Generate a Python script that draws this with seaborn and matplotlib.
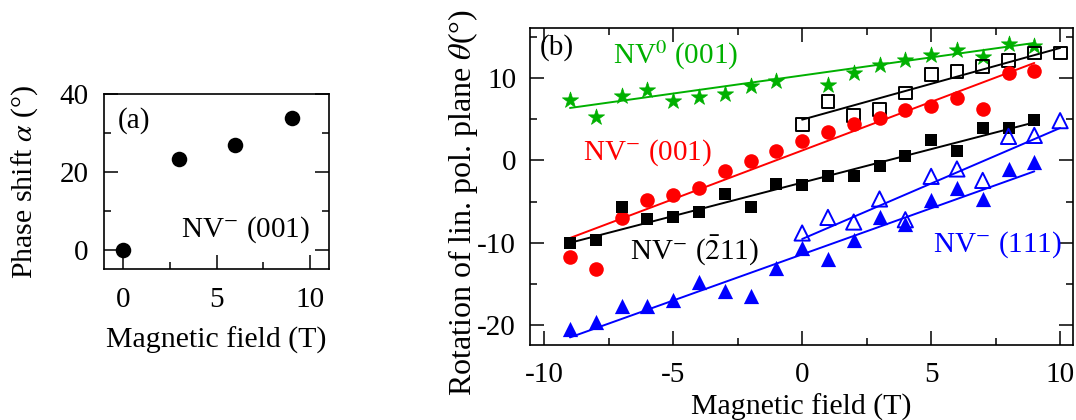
import numpy as np
import pandas as pd
import matplotlib
matplotlib.use("Agg")
import matplotlib.pyplot as plt
import seaborn as sns
from matplotlib.ticker import MultipleLocator

# ---------------- data ----------------
# panel (a)
a_field = [0, 3, 6, 9]
a_phase = [0.0, 23.4, 26.9, 33.9]

# panel (b)
neg_field = [-9, -8, -7, -6, -5, -4, -3, -2, -1, 0, 1, 2, 3, 4, 5, 6, 7, 8, 9]
pos_field = [0, 1, 2, 3, 4, 5, 6, 7, 8, 9, 10]
green_field = [-9, -8, -7, -6, -5, -4, -3, -2, -1, 1, 2, 3, 4, 5, 6, 7, 8, 9]

nv0_001 = [7.37, 5.22, 7.77, 8.50, 7.16, 7.65, 8.09, 8.98, 9.59,
           9.10, 10.61, 11.61, 12.14, 12.74, 13.35, 12.55, 14.13, 13.92]
nvm_001 = [-11.72, -13.14, -6.99, -4.77, -4.16, -3.35, -1.29, -0.12, 1.18, 2.31,
           3.45, 4.45, 5.15, 6.15, 6.64, 7.57, 6.24, 10.61, 10.80]
nvm_211 = [-10.02, -9.62, -5.66, -7.11, -6.87, -6.31, -4.04, -5.66, -2.83, -2.95,
           -1.86, -1.94, -0.64, 0.49, 2.51, 1.09, 3.93, 3.93, 4.94]
nvm_111 = [-20.46, -19.66, -17.72, -17.63, -16.99, -14.81, -15.90, -16.50, -13.06, -10.59,
           -11.97, -9.62, -6.87, -7.68, -4.77, -3.35, -4.68, -1.01, -0.24]
open_sq = [4.33, 7.16, 5.46, 6.15, 8.18, 10.40, 10.80, 11.41, 12.10, 13.03, 13.03]
open_tri = [-8.81, -6.92, -7.48, -4.68, -7.20, -1.94, -1.04, -2.43, 2.91, 3.03, 4.82]

# linear-fit lines: end points
fit_neg_x = [-9, 9]
fit_pos_x = [0, 10]
fit_nv0_001 = [6.36, 14.25]
fit_nvm_001 = [-9.42, 11.82]
fit_nvm_211 = [-10.0, 4.61]
fit_nvm_111 = [-21.48, -1.33]
fit_open_sq = [4.94, 13.64]
fit_open_tri = [-9.54, 3.93]

labels_b = [r"NV$^{0}$ (001)", r"NV$^{-}$ (001)", r"NV$^{-}$ ($\bar{2}$11)", r"NV$^{-}$ (111)"]

# ---------------- style ----------------
sns.set_theme(style="ticks")
plt.rcParams.update({
    "font.family": ["Liberation Serif", "DejaVu Serif"],
    "mathtext.fontset": "stix",
    "axes.unicode_minus": False,
    "font.size": 20,
    "axes.linewidth": 1.2,
    "axes.edgecolor": "#000000",
    "xtick.direction": "in",
    "ytick.direction": "in",
    "xtick.major.size": 10,
    "ytick.major.size": 10,
    "xtick.minor.size": 5,
    "ytick.minor.size": 5,
    "xtick.major.width": 1.1,
    "ytick.major.width": 1.1,
    "xtick.minor.width": 1.1,
    "ytick.minor.width": 1.1,
    "xtick.labelsize": 21,
    "ytick.labelsize": 21,
    "axes.labelsize": 21.5,
    "xtick.color": "#000000",
    "ytick.color": "#000000",
    "axes.labelcolor": "#000000",
    "text.color": "#000000",
})

GREEN = "#00b000"
RED = "#ff0000"
BLUE = "#0000ff"
BLACK = "#000000"

fig = plt.figure(figsize=(10.76, 4.20), dpi=100)
axa = fig.add_axes([104 / 1076, 1 - 269 / 420, 225 / 1076, 175 / 420])
axb = fig.add_axes([530 / 1076, 1 - 345 / 420, 543 / 1076, 317.3 / 420])

# ---------------- panel (a) ----------------
sns.scatterplot(x=a_field, y=a_phase, ax=axa, color=BLACK, s=125, marker="o",
                edgecolor=BLACK, linewidth=0, zorder=3)
axa.set_xlim(-1, 11)
axa.set_ylim(-5, 40)
axa.xaxis.set_major_locator(MultipleLocator(5))
axa.xaxis.set_minor_locator(MultipleLocator(2.5))
axa.yaxis.set_major_locator(MultipleLocator(20))
axa.yaxis.set_minor_locator(MultipleLocator(10))
axa.tick_params(which="both", right=True, top=False)
axa.tick_params(axis="x", which="major", pad=13)
axa.tick_params(axis="y", which="major", pad=11)
axa.set_xlabel("Magnetic field (T)", labelpad=10)
axa.set_ylabel(r"Phase shift $\alpha$ (°)", labelpad=14)
axa.text(0.06, 0.85, "(a)", transform=axa.transAxes, ha="left", va="center", fontsize=21)
axa.text(0.916, 0.223, r"NV$^{-}$ (001)", transform=axa.transAxes, ha="right",
         va="center", fontsize=21)

# ---------------- panel (b) ----------------
def fit(ax, xs, ys, color):
    sns.lineplot(x=xs, y=ys, ax=ax, color=color, linewidth=1.4, zorder=2)

fit(axb, fit_neg_x, fit_nv0_001, GREEN)
fit(axb, fit_pos_x, fit_open_sq, BLACK)
fit(axb, fit_neg_x, fit_nvm_001, RED)
fit(axb, fit_neg_x, fit_nvm_211, BLACK)
fit(axb, fit_neg_x, fit_nvm_111, BLUE)
fit(axb, fit_pos_x, fit_open_tri, BLUE)

sns.scatterplot(x=green_field, y=nv0_001, ax=axb, marker="*", s=150, color=GREEN,
                edgecolor=GREEN, linewidth=0.5, zorder=3)
sns.scatterplot(x=pos_field, y=open_sq, ax=axb, marker="s", s=85, facecolors="none",
                edgecolors=BLACK, linewidths=1.4, zorder=3)
sns.scatterplot(x=neg_field, y=nvm_001, ax=axb, marker="o", s=110, color=RED,
                edgecolor=RED, linewidth=0, zorder=3)
sns.scatterplot(x=neg_field, y=nvm_211, ax=axb, marker="s", s=85, color=BLACK,
                edgecolor=BLACK, linewidth=0, zorder=3)
sns.scatterplot(x=neg_field, y=nvm_111, ax=axb, marker="^", s=120, color=BLUE,
                edgecolor=BLUE, linewidth=0, zorder=3)
sns.scatterplot(x=pos_field, y=open_tri, ax=axb, marker="^", s=120, facecolors="none",
                edgecolors=BLUE, linewidths=1.4, zorder=3)

axb.set_xlim(-10.55, 10.5)
axb.set_ylim(-22.4, 16.1)
axb.xaxis.set_major_locator(MultipleLocator(5))
axb.xaxis.set_minor_locator(MultipleLocator(2.5))
axb.yaxis.set_major_locator(MultipleLocator(10))
axb.yaxis.set_minor_locator(MultipleLocator(5))
axb.tick_params(which="both", right=True, top=True)
axb.tick_params(axis="x", which="major", pad=12)
axb.tick_params(axis="y", which="major", pad=10)
axb.set_xlabel("Magnetic field (T)", labelpad=4)
axb.set_ylabel(r"Rotation of lin. pol. plane $\theta$(°)", labelpad=2, fontsize=23)
axb.yaxis.set_label_coords(-0.092, 0.45)

axb.text(-10.16, 13.7, "(b)", ha="left", va="center", fontsize=21)
axb.text(-7.34, 12.8, labels_b[0], ha="left", va="center", color=GREEN, fontsize=21)
axb.text(-8.48, 0.9, labels_b[1], ha="left", va="center", color=RED, fontsize=21)
axb.text(-6.69, -11.0, labels_b[2], ha="left", va="center", color=BLACK, fontsize=21)
axb.text(5.06, -10.2, labels_b[3], ha="left", va="center", color=BLUE, fontsize=21)

for ax in (axa, axb):
    for sp in ax.spines.values():
        sp.set_visible(True)
    if ax.get_legend() is not None:
        ax.get_legend().remove()

fig.savefig("out.png", dpi=100)
